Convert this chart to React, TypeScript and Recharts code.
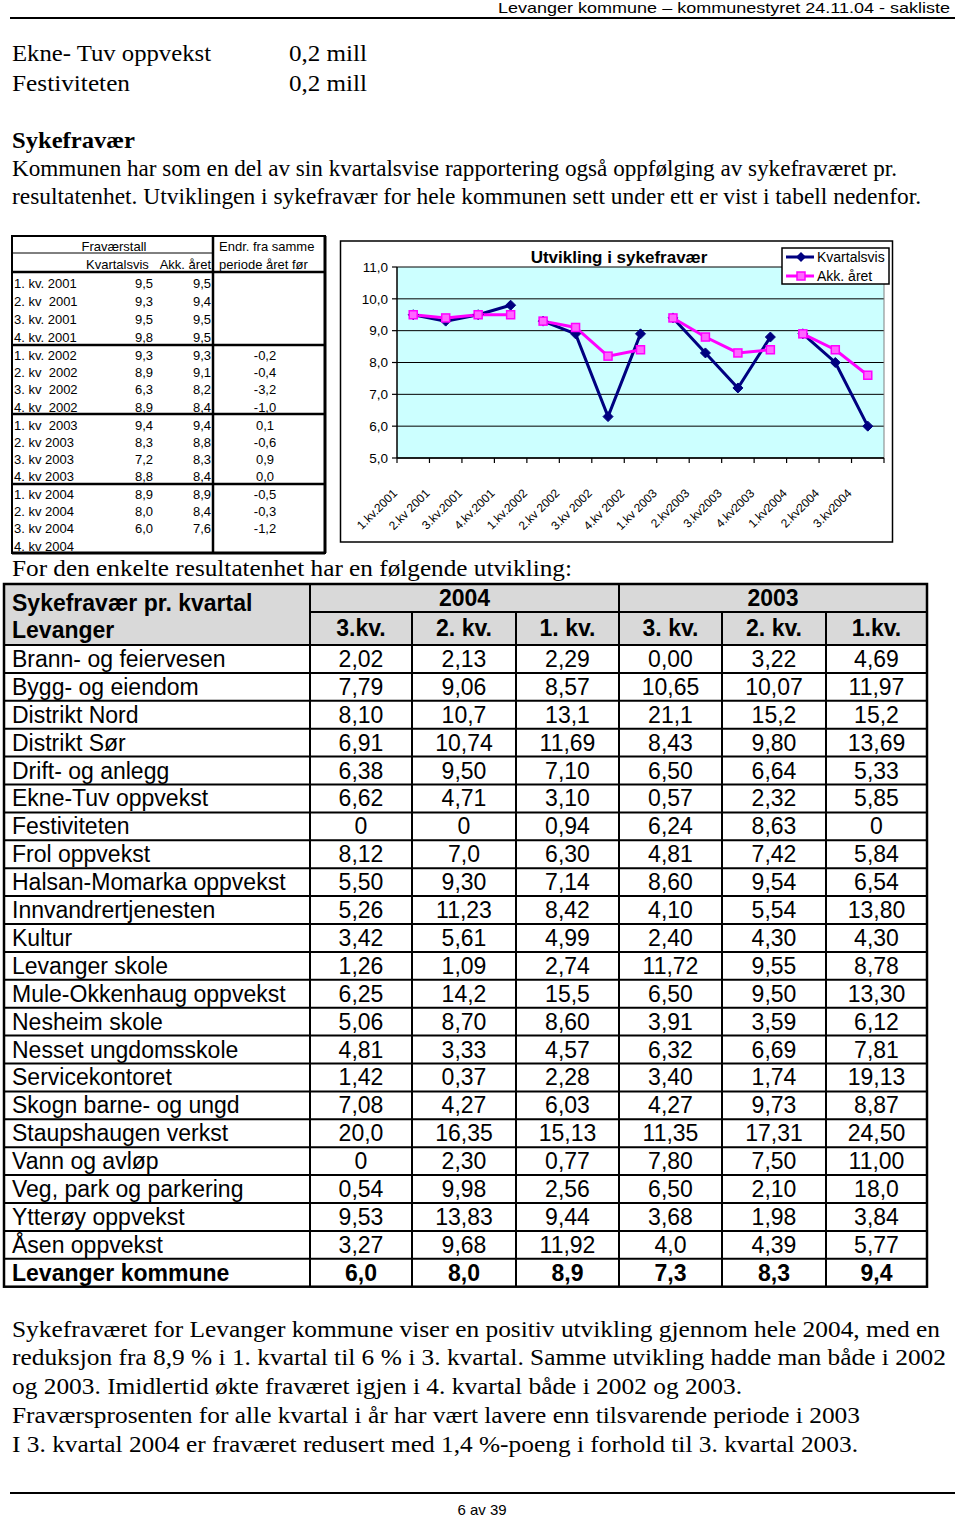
import React from 'react';
import { LineChart, Line, XAxis, YAxis, CartesianGrid, ReferenceLine } from 'recharts';

const SANS = "'Liberation Sans', Arial, sans-serif";
const SERIF = "'Liberation Serif', 'Times New Roman', serif";

// ---- chart data ----
const categories = ['1.kv.2001', '2.kv 2001', '3.kv.2001', '4.kv.2001', '1.kv.2002', '2.kv 2002', '3.kv 2002', '4.kv 2002', '1.kv 2003', '2.kv2003', '3.kv2003', '4.kv2003', '1.kv2004', '2.kv2004', '3.kv2004'];
const years = [2001, 2001, 2001, 2001, 2002, 2002, 2002, 2002, 2003, 2003, 2003, 2003, 2004, 2004, 2004];
const yearList = [2001, 2002, 2003, 2004];
const kvartalsvis = [9.5, 9.3, 9.5, 9.8, 9.3, 8.9, 6.3, 8.9, 9.4, 8.3, 7.2, 8.8, 8.9, 8.0, 6.0];
const akkAret = [9.5, 9.4, 9.5, 9.5, 9.3, 9.1, 8.2, 8.4, 9.4, 8.8, 8.3, 8.4, 8.9, 8.4, 7.6];
const endring = [null, null, null, null, -0.2, -0.4, -3.2, -1.0, 0.1, -0.6, 0.9, 0.0, -0.5, -0.3, -1.2, null];
const periodLabels = ['1. kv. 2001', '2. kv  2001', '3. kv. 2001', '4. kv. 2001', '1. kv. 2002', '2. kv  2002', '3. kv  2002', '4. kv  2002', '1. kv  2003', '2. kv 2003', '3. kv 2003', '4. kv 2003', '1. kv 2004', '2. kv 2004', '3. kv 2004', '4. kv 2004'];
const yTicks = [5, 6, 7, 8, 9, 10, 11];
const seriesNames = ['Kvartalsvis', 'Akk. året'];

// ---- unit table data ----
const units = ['Brann- og feiervesen', 'Bygg- og eiendom', 'Distrikt Nord', 'Distrikt Sør', 'Drift- og anlegg', 'Ekne-Tuv oppvekst', 'Festiviteten', 'Frol oppvekst', 'Halsan-Momarka oppvekst', 'Innvandrertjenesten', 'Kultur', 'Levanger skole', 'Mule-Okkenhaug oppvekst', 'Nesheim skole', 'Nesset ungdomsskole', 'Servicekontoret', 'Skogn barne- og ungd', 'Staupshaugen verkst', 'Vann og avløp', 'Veg, park og parkering', 'Ytterøy oppvekst', 'Åsen oppvekst', 'Levanger kommune'];
const q3_2004 = ['2,02', '7,79', '8,10', '6,91', '6,38', '6,62', '0', '8,12', '5,50', '5,26', '3,42', '1,26', '6,25', '5,06', '4,81', '1,42', '7,08', '20,0', '0', '0,54', '9,53', '3,27', '6,0'];
const q2_2004 = ['2,13', '9,06', '10,7', '10,74', '9,50', '4,71', '0', '7,0', '9,30', '11,23', '5,61', '1,09', '14,2', '8,70', '3,33', '0,37', '4,27', '16,35', '2,30', '9,98', '13,83', '9,68', '8,0'];
const q1_2004 = ['2,29', '8,57', '13,1', '11,69', '7,10', '3,10', '0,94', '6,30', '7,14', '8,42', '4,99', '2,74', '15,5', '8,60', '4,57', '2,28', '6,03', '15,13', '0,77', '2,56', '9,44', '11,92', '8,9'];
const q3_2003 = ['0,00', '10,65', '21,1', '8,43', '6,50', '0,57', '6,24', '4,81', '8,60', '4,10', '2,40', '11,72', '6,50', '3,91', '6,32', '3,40', '4,27', '11,35', '7,80', '6,50', '3,68', '4,0', '7,3'];
const q2_2003 = ['3,22', '10,07', '15,2', '9,80', '6,64', '2,32', '8,63', '7,42', '9,54', '5,54', '4,30', '9,55', '9,50', '3,59', '6,69', '1,74', '9,73', '17,31', '7,50', '2,10', '1,98', '4,39', '8,3'];
const q1_2003 = ['4,69', '11,97', '15,2', '13,69', '5,33', '5,85', '0', '5,84', '6,54', '13,80', '4,30', '8,78', '13,30', '6,12', '7,81', '19,13', '8,87', '24,50', '11,00', '18,0', '3,84', '5,77', '9,4'];
const headerYears = ['2004', '2003'];
const headerQuarters = ['3.kv.', '2. kv.', '1. kv.', '3. kv.', '2. kv.', '1.kv.'];

const fmt = (v: number) => v.toFixed(1).replace('.', ',');

const chartData = categories.map((c, i) => {
  const row: any = { pos: i + 0.5, label: c };
  row['q' + years[i]] = kvartalsvis[i];
  row['a' + years[i]] = akkAret[i];
  return row;
});
const xTicks = categories.map((_, i) => i).concat([categories.length]);

const NAVY = '#000080';
const MAGENTA = '#ff00ff';

function T(props: any) {
  const { x, y, s, w, b, serif, anchor, children, fill } = props;
  return (
    <text
      x={x}
      y={y}
      fontSize={s}
      fontWeight={b ? 'bold' : 'normal'}
      fontFamily={serif ? SERIF : SANS}
      textAnchor={anchor || 'start'}
      textLength={w}
      lengthAdjust={w ? 'spacingAndGlyphs' : undefined}
      fill={fill || '#000'}
      style={{ whiteSpace: 'pre' }}
    >
      {children}
    </text>
  );
}

const diamondDot = (p: any) => {
  if (p.value == null || p.cy == null || isNaN(p.cy)) return <g key={'dd' + p.index} />;
  const r = 5;
  return <path key={'dd' + p.index} d={`M${p.cx},${p.cy - r}L${p.cx + r},${p.cy}L${p.cx},${p.cy + r}L${p.cx - r},${p.cy}Z`} fill={NAVY} stroke={NAVY} />;
};
const squareDot = (p: any) => {
  if (p.value == null || p.cy == null || isNaN(p.cy)) return <g key={'sd' + p.index} />;
  const r = 4;
  return <rect key={'sd' + p.index} x={p.cx - r} y={p.cy - r} width={2 * r} height={2 * r} fill="#ff66ff" stroke={MAGENTA} strokeWidth={1.5} />;
};

const XTick = (props: any) => {
  const { x, y, payload } = props;
  const label = categories[payload.value];
  if (!label) return <g />;
  const tx = x + 1;
  const ty = y + 29;
  return (
    <text x={tx} y={ty} transform={`rotate(-45 ${tx} ${ty})`} textAnchor="end" fontSize={12} fontFamily={SANS} fill="#000">
      {label}
    </text>
  );
};

function Chart() {
  return (
    <LineChart width={553} height={302} data={chartData} margin={{ top: 26, right: 9, left: 0, bottom: 0 }}>
      <CartesianGrid horizontal vertical={false} stroke="#000" strokeWidth={1} fill="#ccffff" fillOpacity={1} />
      <XAxis
        type="number"
        dataKey="pos"
        domain={[0, categories.length]}
        ticks={xTicks}
        interval={0}
        height={85}
        tickSize={5}
        axisLine={{ stroke: '#000', strokeWidth: 1.5 }}
        tickLine={{ stroke: '#000', strokeWidth: 1.2 }}
        tick={XTick}
        allowDecimals={false}
      />
      <YAxis
        type="number"
        domain={[5, 11]}
        ticks={yTicks}
        interval={0}
        width={57}
        tickSize={5}
        tickMargin={4}
        tickFormatter={(v: number) => fmt(v)}
        axisLine={{ stroke: '#000', strokeWidth: 1.5 }}
        tickLine={{ stroke: '#000', strokeWidth: 1.2 }}
        tick={{ fill: '#000', fontSize: 13.5, fontFamily: SANS }}
      />
      <ReferenceLine x={categories.length} stroke="#808080" strokeWidth={1} />
      {yearList.map((y) => (
        <Line
          key={'q' + y}
          type="linear"
          dataKey={'q' + y}
          name={seriesNames[0]}
          stroke={NAVY}
          strokeWidth={3}
          dot={diamondDot}
          activeDot={false}
          connectNulls={false}
          isAnimationActive={false}
        />
      ))}
      {yearList.map((y) => (
        <Line
          key={'a' + y}
          type="linear"
          dataKey={'a' + y}
          name={seriesNames[1]}
          stroke={MAGENTA}
          strokeWidth={3}
          dot={squareDot}
          activeDot={false}
          connectNulls={false}
          isAnimationActive={false}
        />
      ))}
    </LineChart>
  );
}

// layout constants
const leftRowsY = [283, 301, 319, 337, 355, 372, 389, 407, 425, 442, 459, 476, 494, 511, 528, 546];
const bigCols = [4, 310, 412, 516, 619, 722, 826, 927];
const rowTop = 645;
const rowH = 27.9;

function LeftTable() {
  return (
    <g>
      <rect x={12} y={236} width={313} height={317} fill="#fff" stroke="#000" strokeWidth={2} />
      <line x1={213} y1={236} x2={213} y2={553} stroke="#000" strokeWidth={2.5} />
      <line x1={12} y1={253} x2={213} y2={253} stroke="#000" strokeWidth={1} />
      <line x1={12} y1={272} x2={325} y2={272} stroke="#000" strokeWidth={2.5} />
      {[345, 414, 484].map((y) => (
        <line key={y} x1={12} y1={y} x2={325} y2={y} stroke="#000" strokeWidth={2.5} />
      ))}
      <line x1={325} y1={236} x2={325} y2={553} stroke="#000" strokeWidth={3} />
      <line x1={12} y1={553} x2={325} y2={553} stroke="#000" strokeWidth={3} />
      <T x={114} y={251} s={13} anchor="middle">Fraværstall</T>
      <T x={86} y={269} s={13}>Kvartalsvis</T>
      <T x={211} y={269} s={13} anchor="end">Akk. året</T>
      <T x={219} y={251} s={13}>Endr. fra samme</T>
      <T x={219} y={269} s={13}>periode året før</T>
      {periodLabels.map((l, i) => (
        <g key={i}>
          <T x={14} y={leftRowsY[i] + 4.5} s={13}>{l}</T>
          {kvartalsvis[i] != null && <T x={153} y={leftRowsY[i] + 4.5} s={13} anchor="end">{fmt(kvartalsvis[i])}</T>}
          {akkAret[i] != null && <T x={211} y={leftRowsY[i] + 4.5} s={13} anchor="end">{fmt(akkAret[i])}</T>}
          {endring[i] != null && <T x={265} y={leftRowsY[i] + 4.5} s={13} anchor="middle">{fmt(endring[i] as number)}</T>}
        </g>
      ))}
    </g>
  );
}

function BigTable() {
  const cols = [q3_2004, q2_2004, q1_2004, q3_2003, q2_2003, q1_2003];
  const bottom = rowTop + rowH * units.length;
  return (
    <g>
      <rect x={bigCols[0]} y={584} width={bigCols[7] - bigCols[0]} height={rowTop - 584} fill="#d9d9d9" />
      {units.map((_, i) => (
        <line key={'h' + i} x1={bigCols[0]} y1={rowTop + rowH * i} x2={bigCols[7]} y2={rowTop + rowH * i} stroke="#000" strokeWidth={2} />
      ))}
      <line x1={bigCols[1]} y1={612} x2={bigCols[7]} y2={612} stroke="#000" strokeWidth={2} />
      <line x1={bigCols[1]} y1={584} x2={bigCols[1]} y2={bottom} stroke="#000" strokeWidth={2} />
      <line x1={bigCols[4]} y1={584} x2={bigCols[4]} y2={bottom} stroke="#000" strokeWidth={2} />
      {[2, 3, 5, 6].map((c) => (
        <line key={'v' + c} x1={bigCols[c]} y1={612} x2={bigCols[c]} y2={bottom} stroke="#000" strokeWidth={2} />
      ))}
      <rect x={bigCols[0]} y={584} width={bigCols[7] - bigCols[0]} height={bottom - 584} fill="none" stroke="#000" strokeWidth={2.5} />
      <T x={12} y={611} s={23} b>Sykefravær pr. kvartal</T>
      <T x={12} y={638} s={23} b>Levanger</T>
      {headerYears.map((y, i) => (
        <T key={y} x={(bigCols[1 + i * 3] + bigCols[4 + i * 3]) / 2} y={606} s={23} b anchor="middle">{y}</T>
      ))}
      {headerQuarters.map((q, i) => (
        <T key={i} x={(bigCols[i + 1] + bigCols[i + 2]) / 2} y={636} s={23} b anchor="middle">{q}</T>
      ))}
      {units.map((u, i) => {
        const by = rowTop + rowH * i + rowH / 2 + 8;
        const bold = i === units.length - 1;
        return (
          <g key={u}>
            <T x={12} y={by} s={23} b={bold}>{u}</T>
            {cols.map((col, c) => (
              <T key={c} x={(bigCols[c + 1] + bigCols[c + 2]) / 2} y={by} s={23} b={bold} anchor="middle">{col[i]}</T>
            ))}
          </g>
        );
      })}
    </g>
  );
}

function Page() {
  return (
    <svg width={960} height={1519} style={{ position: 'absolute', left: 0, top: 0 }}>
      <rect x={0} y={0} width={960} height={1519} fill="#fff" />
      <T x={498} y={13} s={15} w={452}>Levanger kommune – kommunestyret 24.11.04 - sakliste</T>
      <line x1={10} y1={18} x2={955} y2={18} stroke="#000" strokeWidth={2} />
      <T x={12} y={61} s={24} w={199} serif>Ekne- Tuv oppvekst</T>
      <T x={289} y={61} s={24} w={78} serif>0,2 mill</T>
      <T x={12} y={91} s={24} w={118} serif>Festiviteten</T>
      <T x={289} y={91} s={24} w={78} serif>0,2 mill</T>
      <T x={12} y={148} s={24} w={123} serif b>Sykefravær</T>
      <T x={12} y={176} s={24} w={885} serif>Kommunen har som en del av sin kvartalsvise rapportering også oppfølging av sykefraværet pr.</T>
      <T x={12} y={204} s={24} w={909} serif>resultatenhet. Utviklingen i sykefravær for hele kommunen sett under ett er vist i tabell nedenfor.</T>
      <LeftTable />
      <T x={12} y={576} s={24} w={560} serif>For den enkelte resultatenhet har en følgende utvikling:</T>
      <BigTable />
      <T x={12} y={1337} s={24} w={928} serif>Sykefraværet for Levanger kommune viser en positiv utvikling gjennom hele 2004, med en</T>
      <T x={12} y={1365} s={24} w={934} serif>reduksjon fra 8,9 % i 1. kvartal til 6 % i 3. kvartal. Samme utvikling hadde man både i 2002</T>
      <T x={12} y={1394} s={24} w={730} serif>og 2003. Imidlertid økte fraværet igjen i 4. kvartal både i 2002 og 2003.</T>
      <T x={12} y={1423} s={24} w={848} serif>Fraværsprosenten for alle kvartal i år har vært lavere enn tilsvarende periode i 2003</T>
      <T x={12} y={1452} s={24} w={846} serif>I 3. kvartal 2004 er fraværet redusert med 1,4 %-poeng i forhold til 3. kvartal 2003.</T>
      <line x1={10} y1={1493} x2={955} y2={1493} stroke="#000" strokeWidth={2} />
      <T x={482} y={1515} s={15} anchor="middle">6 av 39</T>
    </svg>
  );
}

function Overlay() {
  return (
    <svg width={960} height={1519} style={{ position: 'absolute', left: 0, top: 0, pointerEvents: 'none' }}>
      <rect x={340.5} y={241} width={552} height={301} fill="none" stroke="#000" strokeWidth={1.5} />
      <T x={619} y={263} s={17} b anchor="middle">Utvikling i sykefravær</T>
      <rect x={782} y={248} width={107} height={36} fill="#fff" stroke="#000" strokeWidth={1.5} />
      <line x1={786} y1={257} x2={814} y2={257} stroke={NAVY} strokeWidth={3} />
      <path d="M801,252L806,257L801,262L796,257Z" fill={NAVY} />
      <T x={817} y={262} s={14}>{seriesNames[0]}</T>
      <line x1={786} y1={276} x2={814} y2={276} stroke={MAGENTA} strokeWidth={3} />
      <rect x={797} y={272} width={8} height={8} fill="#ff66ff" stroke={MAGENTA} strokeWidth={1.5} />
      <T x={817} y={281} s={14}>{seriesNames[1]}</T>
    </svg>
  );
}

export default function App() {
  return (
    <div style={{ position: 'absolute', left: 0, top: 0, width: 960, height: 1519, background: '#fff', overflow: 'hidden' }}>
      <Page />
      <div style={{ position: 'absolute', left: 340, top: 241, width: 553, height: 302 }}>
        <Chart />
      </div>
      <Overlay />
    </div>
  );
}
